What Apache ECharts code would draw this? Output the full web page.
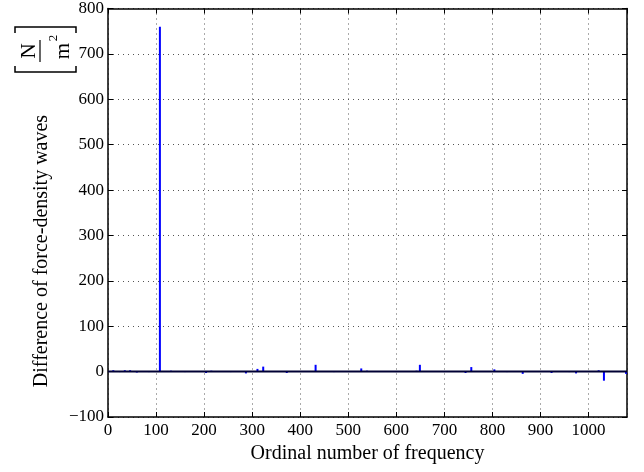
<!DOCTYPE html>
<html>
<head>
<meta charset="utf-8">
<script src="https://cdn.jsdelivr.net/npm/echarts@6/dist/echarts.min.js"></script>
<style>
  html, body { margin: 0; padding: 0; background: #fff; }
  #chart { width: 644px; height: 472px; }
</style>
</head>
<body>
<div id="chart"></div>
<script>
// ordinal numbers of frequency that have a visible bar
const freqIndex = [11, 24, 35, 46, 60, 85, 108, 131, 160, 204, 215, 255, 287, 311, 323, 372, 400, 432, 470, 527, 539, 560, 600, 642, 649, 700, 744, 756, 790, 804, 830, 863, 900, 923, 960, 974, 1021, 1032, 1078]
// difference of force-density waves [N/m^2]
const waveDiff = [3, -1, 3, 3, -2, -1, 760, 2, -1, -3, 2, -1, -4, 6, 11, -3, 1, 15, -1, 7, 2, 1, -1, 2, 15, -1, -3, 10, 1, 5, -1, -5, 1, -3, -1, -4, 3, -20, -5]

const font = '"Liberation Serif", "DejaVu Serif", serif'
const chart = echarts.init(document.getElementById('chart'))

const barData = freqIndex.map((f, i) => [f, waveDiff[i]])

const gridStyle = { show: true, lineStyle: { color: '#555', type: [1, 4], width: 1 } }
// no thousands separator, real minus sign
const plainNum = v => (v < 0 ? '\u2212' + Math.abs(v) : String(v))

const option = {
  animation: false,
  backgroundColor: '#fff',
  grid: { left: 108, right: 17, top: 7, bottom: 55, show: false },
  xAxis: [
    {
      type: 'value', min: 0, max: 1080, interval: 100,
      axisLine: { show: true, onZero: false, lineStyle: { color: '#000', width: 1.5 } },
      axisTick: { inside: true, length: 5, lineStyle: { color: '#000' } },
      axisLabel: { color: '#000', fontFamily: font, fontSize: 17, margin: 5, showMaxLabel: false, formatter: plainNum },
      splitLine: gridStyle,
      name: 'Ordinal number of frequency', nameLocation: 'middle', nameGap: 27,
      nameTextStyle: { color: '#000', fontFamily: font, fontSize: 20 }
    },
    {
      type: 'value', position: 'top', min: 0, max: 1080, interval: 100,
      axisLine: { show: true, onZero: false, lineStyle: { color: '#000', width: 1.5 } },
      axisTick: { inside: true, length: 5, lineStyle: { color: '#000' } },
      axisLabel: { show: false }, splitLine: { show: false }
    }
  ],
  yAxis: [
    {
      type: 'value', min: -100, max: 800, interval: 100,
      axisLine: { show: true, onZero: false, lineStyle: { color: '#000', width: 1.5 } },
      axisTick: { inside: true, length: 5, lineStyle: { color: '#000' } },
      axisLabel: { color: '#000', fontFamily: font, fontSize: 17, margin: 4, formatter: plainNum },
      splitLine: gridStyle
    },
    {
      type: 'value', position: 'right', min: -100, max: 800, interval: 100,
      axisLine: { show: true, onZero: false, lineStyle: { color: '#000', width: 1.5 } },
      axisTick: { inside: true, length: 5, lineStyle: { color: '#000' } },
      axisLabel: { show: false }, splitLine: { show: false }
    }
  ],
  series: [
    {
      type: 'bar',
      data: barData,
      barWidth: 2,
      itemStyle: { color: '#0000ff' },
      z: 3
    },
    {
      // bar baseline
      type: 'line',
      data: [[0, 0], [1080, 0]],
      symbol: 'none',
      lineStyle: { color: '#000033', width: 2 },
      z: 4
    }
  ],
  graphic: [
    {
      type: 'text', x: 42, y: 251, rotation: Math.PI / 2,
      style: { text: 'Difference of force-density waves', fill: '#000', font: '20px ' + font, align: 'center', verticalAlign: 'middle' }
    },
    { type: 'polyline', shape: { points: [[15, 33], [15, 27], [76, 27], [76, 33]] }, style: { stroke: '#000', lineWidth: 1.5, fill: null } },
    { type: 'polyline', shape: { points: [[15, 66], [15, 72], [76, 72], [76, 66]] }, style: { stroke: '#000', lineWidth: 1.5, fill: null } },
    { type: 'line', shape: { x1: 40, y1: 40, x2: 40, y2: 62 }, style: { stroke: '#000', lineWidth: 1.2 } },
    {
      type: 'text', x: 29, y: 51, rotation: Math.PI / 2,
      style: { text: 'N', fill: '#000', font: '21px ' + font, align: 'center', verticalAlign: 'middle' }
    },
    {
      type: 'text', x: 63, y: 51, rotation: Math.PI / 2,
      style: { text: 'm', fill: '#000', font: '21px ' + font, align: 'center', verticalAlign: 'middle' }
    },
    {
      type: 'text', x: 54, y: 38, rotation: Math.PI / 2,
      style: { text: '2', fill: '#000', font: '13px ' + font, align: 'center', verticalAlign: 'middle' }
    }
  ]
}

chart.setOption(option)
</script>
</body>
</html>
